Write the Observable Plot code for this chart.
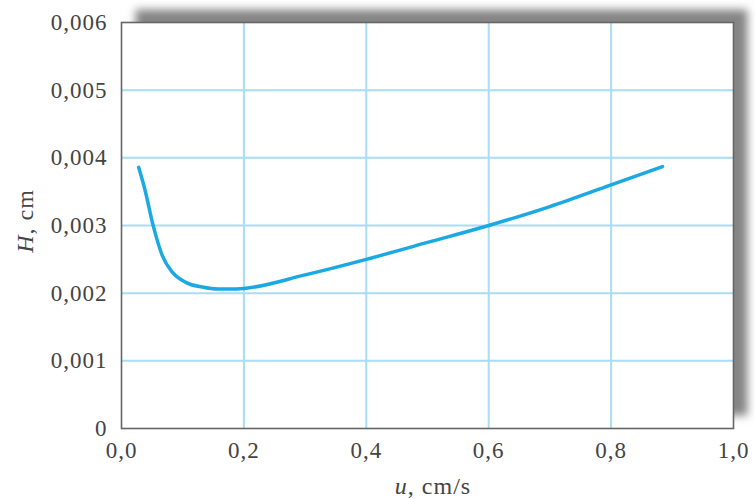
<!DOCTYPE html>
<html>
<head>
<meta charset="utf-8">
<script src="https://cdn.jsdelivr.net/npm/d3@7"></script>
<script src="https://cdn.jsdelivr.net/npm/@observablehq/plot@0.6"></script>
<style>
  body { margin: 0; background: #fff; }
  #chart svg { display: block; }
</style>
</head>
<body>
<div id="chart"></div>
<script>
// Data (Van Deemter curve)
const uValues = [0.028, 0.038, 0.052, 0.0665, 0.083, 0.105, 0.132, 0.158, 0.18, 0.2, 0.3, 0.4, 0.5, 0.6, 0.7, 0.8, 0.884];
const hValues = [0.00386, 0.00354, 0.00299, 0.00256, 0.00231, 0.00216, 0.00209, 0.00206, 0.00206, 0.00207, 0.00227, 0.0025, 0.00275, 0.0030, 0.00328, 0.0036, 0.00387];
const xTicks = [0, 0.2, 0.4, 0.6, 0.8, 1.0];
const yTicks = [0, 0.001, 0.002, 0.003, 0.004, 0.005, 0.006];
const xLabelParts = [["u", "italic"], [", cm/s", "normal"]];
const yLabelParts = [["H", "italic"], [", cm", "normal"]];

const data = uValues.map((u, i) => ({u, H: hValues[i]}));
const comma = s => s.replace(".", ",");

const W = 755, H = 499;
const mL = 121, mR = 22, mT = 22, mB = 71;
const textColor = "#444";

const plot = Plot.plot({
  width: W,
  height: H,
  marginLeft: mL,
  marginRight: mR,
  marginTop: mT,
  marginBottom: mB,
  style: {fontFamily: "'Liberation Serif', 'Times New Roman', serif", fontSize: "23px", letterSpacing: "1px", color: textColor, background: "transparent", overflow: "visible"},
  x: {domain: [0, 1], label: null},
  y: {domain: [0, 0.006], label: null},
  marks: [
    Plot.frame({fill: "#858585", stroke: null, dx: 14, dy: -13}),
    Plot.frame({fill: "#ffffff", stroke: null}),
    Plot.gridX(xTicks.slice(1, -1), {stroke: "#a9dcf5", strokeOpacity: 1, strokeWidth: 2}),
    Plot.gridY(yTicks.slice(1, -1), {stroke: "#a9dcf5", strokeOpacity: 1, strokeWidth: 2}),
    Plot.line(data, {x: "u", y: "H", curve: "monotone-x", stroke: "#1ba9e4", strokeWidth: 3.5, strokeLinecap: "round"}),
    Plot.frame({stroke: "#666", strokeWidth: 1.6}),
    Plot.axisX({ticks: xTicks, tickSize: 0, tickPadding: 13, tickFormat: d => comma(d3.format(".1f")(d)), label: null, fill: textColor}),
    Plot.axisY({ticks: yTicks, tickSize: 0, tickPadding: 14, tickFormat: d => d === 0 ? "0" : comma(d3.format(".3f")(d)), label: null, fill: textColor})
  ]
});

const svg = d3.select(plot);
// blur filter for the drop shadow
const defs = svg.insert("defs", ":first-child");
defs.append("filter").attr("id", "shadowBlur").attr("x", "-10%").attr("y", "-10%").attr("width", "120%").attr("height", "120%")
  .append("feGaussianBlur").attr("stdDeviation", 4);
const frames = plot.querySelectorAll('[aria-label="frame"]');
if (frames.length) d3.select(frames[0]).attr("filter", "url(#shadowBlur)");

// axis labels with italic variable names
const cx = mL + (W - mL - mR) / 2;
const xl = svg.append("text").attr("x", cx + 6).attr("y", 494).attr("text-anchor", "middle")
  .attr("fill", textColor).style("font-size", "24px");
xLabelParts.forEach(([t, s]) => xl.append("tspan").attr("font-style", s).text(t));
const cy = mT + (H - mT - mB) / 2;
const yl = svg.append("text").attr("transform", `translate(33,${cy - 4}) rotate(-90)`).attr("text-anchor", "middle")
  .attr("fill", textColor).style("font-size", "24px");
yLabelParts.forEach(([t, s]) => yl.append("tspan").attr("font-style", s).text(t));

document.getElementById("chart").appendChild(plot);
</script>
</body>
</html>
